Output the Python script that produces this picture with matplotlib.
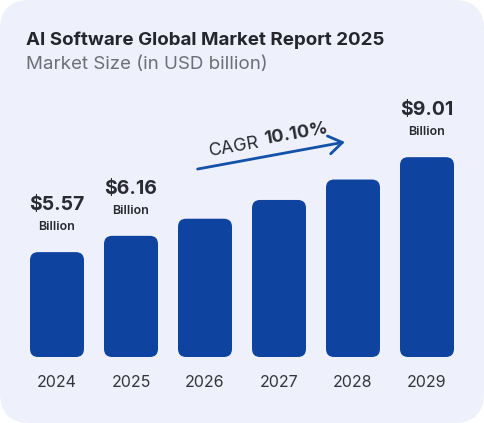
import matplotlib.pyplot as plt
from matplotlib.patches import FancyBboxPatch

years = ["2024", "2025", "2026", "2027", "2028", "2029"]
market_size = [5.57, 6.16, 6.78, 7.46, 8.20, 9.01]  # USD billion
labelled = [0, 1, 5]  # bars with value labels
cagr_text = "10.10%"

plt.rcParams['font.family'] = ['Inter', 'DejaVu Sans']

W, H = 484, 423
fig = plt.figure(figsize=(W / 100, H / 100), dpi=100)
fig.patch.set_facecolor("white")

# card background
card = FancyBboxPatch((0, 0), 1, 1, boxstyle="round,pad=0,rounding_size=0.062",
                      mutation_aspect=W / H, transform=fig.transFigure,
                      facecolor="#eef0fb", edgecolor="none", zorder=-10)
fig.patches.append(card)

# titles
fig.text(26 / W, 1 - 45 / H, "AI Software Global Market Report 2025", fontsize=13.5,
         fontweight="bold", color="#25252e", va="baseline", ha="left")
fig.text(26 / W, 1 - 69 / H, "Market Size (in USD billion)", fontsize=13.5,
         color="#6e6e78", va="baseline", ha="left")

# axes
px_per_unit = 27.6
floor = 1.77
ax = fig.add_axes([20 / W, 66 / H, 444 / W, 297 / H])
ax.set_zorder(1)
ax.set_xlim(-0.5, 5.5)
ax.set_ylim(floor, floor + 297 / px_per_unit)
ax.patch.set_alpha(0)
for s in ax.spines.values():
    s.set_visible(False)
ax.set_yticks([])
ax.set_xticks(range(len(years)), years)
ax.tick_params(axis="x", length=0, pad=13, labelsize=11.5, labelcolor="#34343c")

bar_w = 54 / 74
aspect = (1 / px_per_unit) / (1 / 74)
for i, v in enumerate(market_size):
    p = FancyBboxPatch((i - bar_w / 2, floor), bar_w, v - floor,
                       boxstyle="round,pad=0,rounding_size=0.11",
                       mutation_aspect=aspect, facecolor="#0e44a0",
                       edgecolor="none")
    ax.add_patch(p)

for i in labelled:
    v = market_size[i]
    ax.annotate(f"${v:.2f}", (i, v), xytext=(0, 34), textcoords="offset points",
                ha="center", va="center", fontsize=14, fontweight="bold",
                color="#2a2a33")
    ax.annotate("Billion", (i, v), xytext=(0, 18), textcoords="offset points",
                ha="center", va="center", fontsize=9, fontweight="semibold",
                color="#2a2a33")

# CAGR arrow and label
ax.annotate("", xy=(3.89, 9.56), xytext=(1.9, 8.58),
            arrowprops=dict(arrowstyle="->,head_length=0.75,head_width=0.5",
                            color="#1451a8", lw=2.0, shrinkA=0, shrinkB=0,
                            mutation_scale=13))
ax.text(2.39, floor + (357 - 147) / px_per_unit, "CAGR", rotation=10, ha="center",
        va="center", fontsize=13, color="#2a2a33", rotation_mode="anchor")
ax.text(3.23, floor + (357 - 134) / px_per_unit, cagr_text, rotation=10, ha="center",
        va="center", fontsize=13, fontweight="bold", color="#2a2a33",
        rotation_mode="anchor")

fig.savefig("out.png", dpi=100, facecolor=fig.get_facecolor())
